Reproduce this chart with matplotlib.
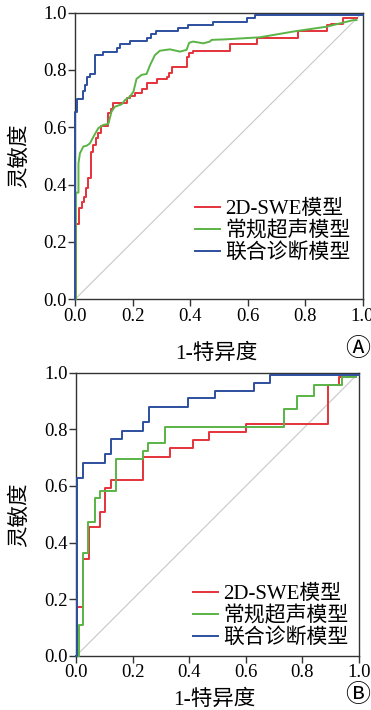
import numpy as np
from matplotlib import pyplot as plt

plt.rcParams['font.family'] = ['Liberation Serif', 'Noto Sans CJK SC', 'DejaVu Sans']

# panel A - curves as (1-specificity, sensitivity) corner points
a_swe_x = [0, 0.003, 0.015, 0.023, 0.031, 0.038, 0.046, 0.056, 0.064, 0.073, 0.081, 0.089,
           0.116, 0.124, 0.133, 0.18, 0.191, 0.209, 0.232, 0.251, 0.284, 0.319, 0.328, 0.336,
           0.388, 0.397, 0.411, 0.539, 0.632, 0.776, 0.875, 0.892, 0.933, 0.979]
a_swe_y = [0, 0.263, 0.317, 0.34, 0.358, 0.387, 0.422, 0.515, 0.538, 0.562, 0.581, 0.605,
           0.649, 0.663, 0.686, 0.701, 0.709, 0.721, 0.733, 0.756, 0.767, 0.777, 0.788, 0.812,
           0.844, 0.858, 0.867, 0.89, 0.91, 0.936, 0.957, 0.96, 0.98, 0.98]

a_us_x = [0, 0.003, 0.003, 0.012, 0.012, 0.017, 0.029, 0.041, 0.052, 0.064, 0.081, 0.098,
          0.116, 0.127, 0.139, 0.162, 0.174, 0.191, 0.203, 0.214, 0.232, 0.249, 0.261, 0.278,
          0.295, 0.33, 0.365, 0.388, 0.397, 0.411, 0.446, 0.469, 0.475, 0.527, 0.643, 0.759,
          0.875, 0.968, 0.979]
a_us_y = [0, 0, 0.372, 0.372, 0.474, 0.509, 0.533, 0.536, 0.544, 0.567, 0.597, 0.608,
          0.612, 0.655, 0.672, 0.68, 0.695, 0.707, 0.724, 0.769, 0.783, 0.786, 0.817, 0.852,
          0.867, 0.872, 0.864, 0.87, 0.895, 0.899, 0.893, 0.899, 0.905, 0.907, 0.914, 0.934,
          0.951, 0.974, 0.974]

a_comb_x = [0, 0, 0.006, 0.027, 0.035, 0.043, 0.052, 0.07, 0.098, 0.147, 0.156, 0.191, 0.251,
            0.263, 0.282, 0.359, 0.394, 0.481, 0.597, 0.626, 1.0]
a_comb_y = [0, 0.655, 0.70, 0.728, 0.748, 0.774, 0.786, 0.852, 0.864, 0.876, 0.89, 0.90, 0.91,
            0.925, 0.936, 0.945, 0.957, 0.969, 0.98, 0.992, 0.992]

# panel B
b_swe_x = [0, 0.005, 0.026, 0.047, 0.085, 0.102, 0.122, 0.238, 0.332, 0.412, 0.469, 0.602,
           0.891, 0.929, 0.988]
b_swe_y = [0, 0.174, 0.341, 0.454, 0.509, 0.594, 0.621, 0.704, 0.733, 0.762, 0.789, 0.818,
           0.956, 0.986, 0.986]

b_us_x = [0, 0.012, 0.026, 0.044, 0.067, 0.085, 0.141, 0.235, 0.255, 0.314, 0.734, 0.781,
          0.84, 0.938, 0.988]
b_us_y = [0, 0.109, 0.362, 0.472, 0.556, 0.584, 0.695, 0.725, 0.753, 0.809, 0.872, 0.918,
          0.956, 0.986, 0.986]

b_comb_x = [0, 0.005, 0.026, 0.102, 0.122, 0.161, 0.238, 0.258, 0.396, 0.491, 0.628, 0.685, 1.0]
b_comb_y = [0, 0.627, 0.682, 0.712, 0.767, 0.795, 0.825, 0.88, 0.909, 0.936, 0.965, 0.992, 0.992]

labels = ['2D-SWE模型', '常规超声模型', '联合诊断模型']
colors = ['#e5323b', '#5ab446', '#2d4f9e']
ticks = [0.0, 0.2, 0.4, 0.6, 0.8, 1.0]

fig = plt.figure(figsize=(3.71, 7.10), dpi=100)
ax_a = fig.add_axes([0.2022, 0.5785, 0.775, 0.4037])
ax_b = fig.add_axes([0.2049, 0.0761, 0.763, 0.399])


def draw(ax, curves, styles, tag, tag_xy, leg_anchor, xlab_y, ylab_x):
    ax.plot([0, 1], [0, 1], color='#c8c8c8', lw=0.8, zorder=1)
    for (x, y), ds, lab, c in zip(curves, styles, labels, colors):
        ax.plot(x, y, drawstyle=ds, color=c, lw=1.4, label=lab, zorder=3, clip_on=False)
    ax.set_xlim(0, 1)
    ax.set_ylim(0, 1)
    ax.set_xticks(ticks)
    ax.set_yticks(ticks)
    ax.set_xticklabels(['%.1f' % t for t in ticks])
    ax.set_yticklabels(['%.1f' % t for t in ticks])
    ax.tick_params(direction='out', length=5, width=1, labelsize=13.5, pad=1, color='#333333')
    for s in ax.spines.values():
        s.set_color('#333333')
        s.set_linewidth(1)
    ax.set_xlabel('1-特异度', fontsize=15.5)
    ax.xaxis.set_label_coords(0.49, xlab_y)
    ax.set_ylabel('灵敏度', fontsize=15.5)
    ax.yaxis.set_label_coords(ylab_x, 0.5)
    ax.legend(loc='lower right', bbox_to_anchor=leg_anchor, frameon=False, fontsize=15,
              handlelength=1.2, handletextpad=0.25, labelspacing=0.1, borderpad=0,
              borderaxespad=0)
    fig.text(tag_xy[0], tag_xy[1], tag, fontsize=18, ha='center', va='center',
             family=['Noto Sans CJK SC', 'DejaVu Sans', 'Noto Sans'])


draw(ax_a, [(a_swe_x, a_swe_y), (a_us_x, a_us_y), (a_comb_x, a_comb_y)],
     ['steps-post', 'default', 'steps-post'], 'Ⓐ', (358 / 371, 1 - 349 / 710),
     (0.957, 0.126), -0.154, -0.155)
draw(ax_b, [(b_swe_x, b_swe_y), (b_us_x, b_us_y), (b_comb_x, b_comb_y)],
     ['steps-post', 'steps-post', 'steps-post'], 'Ⓑ', (358 / 371, 1 - 695 / 710),
     (0.961, 0.028), -0.12, -0.162)

fig.savefig('out.png', dpi=100)
